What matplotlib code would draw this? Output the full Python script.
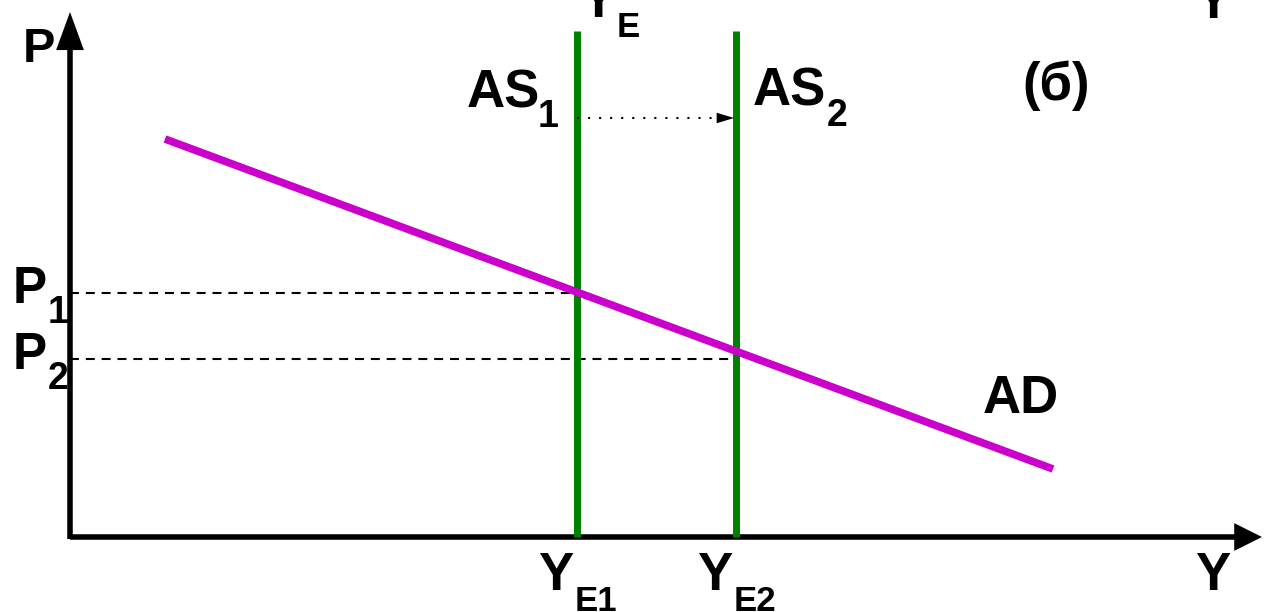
import matplotlib
matplotlib.use("Agg")
import matplotlib.pyplot as plt

plt.rcParams['font.family'] = ['Liberation Sans', 'DejaVu Sans']

# model values (origin of the P/Y axes at 0,0)
ad_y = [95, 983]        # output at the two ends of AD
ad_p = [398, 68]        # price at the two ends of AD
as_y = [507, 666]       # AS1, AS2 (vertical)
as_top = 506
p_levels = [244, 178]   # P1, P2
p_names = ['1', '2']
ye_names = ['E1', 'E2']
x_end, y_end = 1192, 525
shift_p = 419           # height of the dotted AS1 -> AS2 arrow

MAGENTA = '#CC00CC'
GREEN = '#008000'

fig = plt.figure(figsize=(12.65, 6.12), dpi=100)
ax = fig.add_axes([0, 0, 1, 1])
ax.set_xlim(-70, 1195)
ax.set_ylim(-75, 537)
ax.axis('off')

# axes with arrow heads
ax.plot([0, x_end - 26], [0, 0], color='black', lw=4, solid_capstyle='butt')
ax.plot([0, 0], [-2, y_end - 34], color='black', lw=4, solid_capstyle='butt')
ax.annotate('', xy=(x_end, 0), xytext=(x_end - 30, 0),
            arrowprops=dict(arrowstyle='-|>,head_length=1.0,head_width=0.5',
                            color='black', lw=0, mutation_scale=20,
                            shrinkA=0, shrinkB=0))
ax.annotate('', xy=(0, y_end), xytext=(0, y_end - 40),
            arrowprops=dict(arrowstyle='-|>,head_length=1.37,head_width=0.5',
                            color='black', lw=0, mutation_scale=20,
                            shrinkA=0, shrinkB=0))

# dashed price levels up to the AS curves
for p, x in zip(p_levels, as_y):
    ax.plot([0, x], [p, p], color='black', lw=1.5,
            linestyle=(0, (4.3, 3.3)), zorder=1)

# AS curves
for x in as_y:
    ax.plot([x, x], [0, as_top], color=GREEN, lw=5,
            solid_capstyle='butt', zorder=2)

# AD curve
ax.plot(ad_y, ad_p, color=MAGENTA, lw=5.5, solid_capstyle='butt', zorder=3)

# dotted shift arrow: dotted stem + solid head
ax.plot([as_y[0], as_y[1] - 16], [shift_p, shift_p], color='black', lw=1.5,
        linestyle=(0, (1, 4.3)), zorder=4)
ax.annotate('', xy=(as_y[1] - 2, shift_p), xytext=(as_y[1] - 20, shift_p),
            arrowprops=dict(arrowstyle='-|>,head_length=1.25,head_width=0.38',
                            color='black', lw=0, mutation_scale=10,
                            shrinkA=0, shrinkB=0),
            zorder=4)

big = dict(fontsize=38, fontweight='bold', va='baseline', ha='left')
sub = dict(fontsize=27, fontweight='bold', va='baseline', ha='left')

ax.text(-47, 475, 'P', **dict(big, fontsize=35))
ax.text(1125, -53, 'Y', **big)

ax.text(397, 430, 'AS', **big)
ax.text(468, 410, '1', **sub)
ax.text(683, 432, 'AS', **big)
ax.text(757, 411, '2', **sub)

ax.text(952, 437, '(б)', **big)
ax.text(913, 124, 'AD', **big)

# P1, P2 labels
for p, name in zip(p_levels, p_names):
    ax.text(-57, p - 10, 'P', **dict(big, fontsize=37))
    ax.text(-22, p - 30, name, **sub)

# Y_E1, Y_E2 labels
for x, name in zip(as_y, ye_names):
    ax.text(x - 39, -53, 'Y', **big)
    ax.text(x - 2, -74, name, **dict(sub, fontsize=25))

# labels cut by the top edge
ax.text(510, 520, 'Y', **big)
ax.text(547, 500, 'E', **dict(sub, fontsize=25))
ax.text(1125, 519, 'Y', **big)

fig.savefig('out.png', dpi=100)
